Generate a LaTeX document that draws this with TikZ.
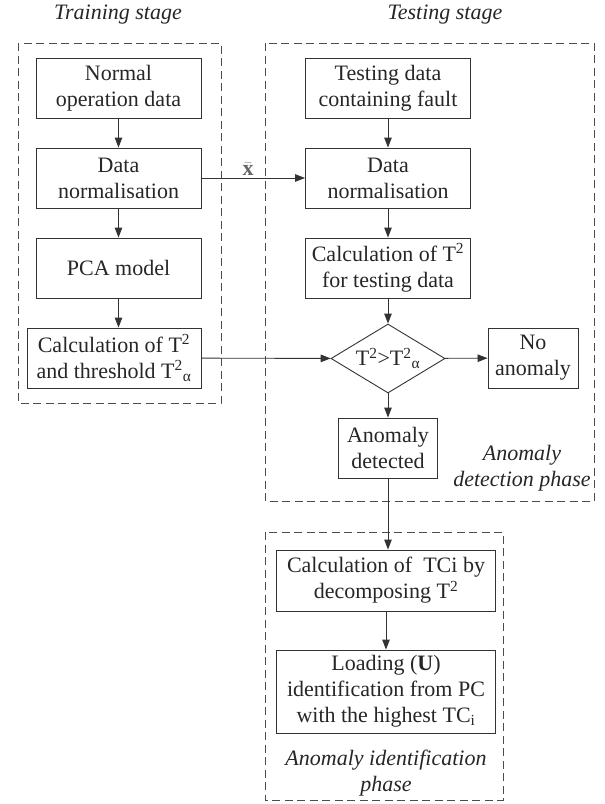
\documentclass[tikz,border=0pt]{standalone}
\usepackage{fontspec}
\setmainfont{Liberation Serif}
\usepackage{amsmath}
\usepackage{tikz}
\usetikzlibrary{positioning,shapes.geometric,arrows.meta}

\begin{document}
\begin{tikzpicture}[
    x=1pt,y=-1pt,
    font=\fontsize{22}{26}\selectfont,
    box/.style={draw=black!80,line width=0.9pt,align=center,inner sep=2pt,
                text=black!85,minimum height=60pt},
    wbox/.style={box,minimum width=165pt},
    dec/.style={diamond,draw=black!80,line width=0.9pt,aspect=1.65,
                inner sep=0pt,minimum width=114pt,minimum height=69pt,
                text=black!85},
    zone/.style={draw=black!70,line width=0.9pt,dash pattern=on 8pt off 4.5pt},
    ar/.style={-{Triangle[length=10pt,width=7.5pt]},draw=black!80,line width=0.9pt},
    tag/.style={font=\fontsize{22}{26}\selectfont\itshape,text=black!85,
                align=center}]

  \useasboundingbox (0,0) rectangle (605,804);

  % dashed stage / phase frames
  \draw[zone] (18,43) rectangle (221,403);
  \draw[zone] (265,43) rectangle (594,501);
  \draw[zone] (265,532) rectangle (503,800);

  \node[tag] (ttrain) at (118,15) {Training stage};
  \node[tag] (ttest)  at (445,15) {Testing stage};

  % training column
  \node[wbox] (normal) at (118.5,88)  {Normal\\operation data};
  \node[wbox] (normL)  at (118.5,178) {Data\\normalisation};
  \node[wbox] (pca)    at (118.5,268) {PCA model};
  \node[box,minimum width=174pt] (thr) at (114,358)
       {Calculation of T\textsuperscript{2}\\and threshold T\textsuperscript{2}\textsubscript{α}};

  % testing column
  \node[wbox] (test)  at (388,88)  {Testing data\\containing fault};
  \node[wbox] (normR) at (388,178) {Data\\normalisation};
  \node[wbox] (calc)  at (388,268) {Calculation of T\textsuperscript{2}\\for testing data};
  \node[dec]  (chk)   at (388,358.5) {T\textsuperscript{2}>T\textsuperscript{2}\textsubscript{α}};
  \node[box,minimum width=90pt] (noan) at (533,358) {No\\anomaly};
  \node[box,minimum width=99pt] (det)  at (388,448) {Anomaly\\detected};
  \node[tag] (detph) at (522,468) {Anomaly\\detection phase};

  % identification phase
  \node[box,minimum width=219pt,minimum height=61pt] (tci) at (386,580.5)
       {Calculation of\ \ TCi by\\decomposing T\textsuperscript{2}};
  \node[box,minimum width=219pt,minimum height=83pt] (load) at (386,691.5)
       {Loading (\textbf{U})\\identification from PC\\with the highest TC\textsubscript{i}};
  \node[tag] (idph) at (386,773) {Anomaly identification\\phase};

  \draw[ar] (normal) -- (normL);
  \draw[ar] (normL)  -- (pca);
  \draw[ar] (pca)    -- (pca |- thr.north);
  \draw[ar] (test)   -- (normR);
  \draw[ar] (normR)  -- (calc);
  \draw[ar] (calc)   -- (chk);
  \draw[ar] (normL)  -- (normR)
        node[pos=0.45,above=1pt,inner sep=1pt,text=black!60]{$\bar{\mathbf{x}}$};
  \draw[ar] (thr)    -- (chk);
  \draw[ar] (chk)    -- (noan);
  \draw[ar] (chk)    -- (det);
  \draw[ar] (det.south) -- (det.south |- tci.north);
  \draw[ar] (tci)    -- (load);
\end{tikzpicture}
\end{document}
